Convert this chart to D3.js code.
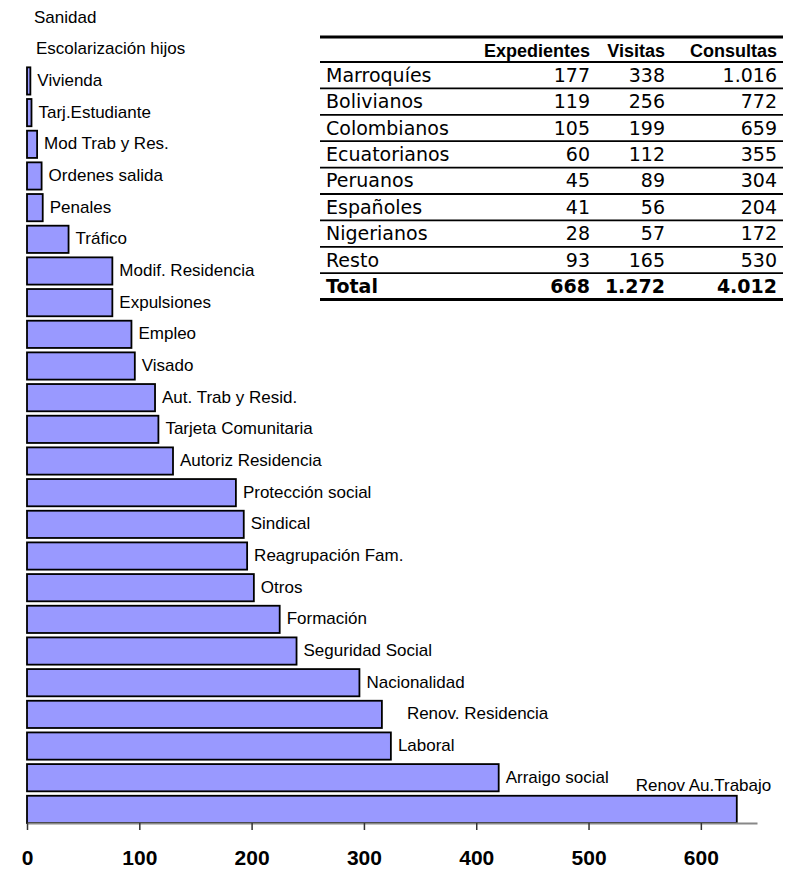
<!DOCTYPE html>
<html>
	<head>
		<meta charset="utf-8">
		<script src="https://d3js.org/d3.v7.min.js"></script>
		<style>
			body { margin: 0; background: #fff; }
		</style>
	</head>
	<body>
		<script>
			// temas de consulta, de arriba abajo
			var temas = ["Sanidad", "Escolarización hijos", "Vivienda", "Tarj.Estudiante", "Mod Trab y Res.",
				"Ordenes salida", "Penales", "Tráfico", "Modif. Residencia", "Expulsiones", "Empleo", "Visado",
				"Aut. Trab y Resid.", "Tarjeta Comunitaria", "Autoriz Residencia", "Protección social", "Sindical",
				"Reagrupación Fam.", "Otros", "Formación", "Seguridad Social", "Nacionalidad", "Renov. Residencia",
				"Laboral", "Arraigo social", "Renov Au.Trabajo"];
			var valores = [0, 0, 3, 4, 9, 13, 14, 37, 76, 76, 93, 96, 114, 117, 130, 186, 193, 196, 202, 225, 240,
				296, 316, 324, 420, 632];
			var ticks = [0, 100, 200, 300, 400, 500, 600];

			// tabla por nacionalidad
			var nacionalidades = ["Marroquíes", "Bolivianos", "Colombianos", "Ecuatorianos", "Peruanos",
				"Españoles", "Nigerianos", "Resto", "Total"];
			var columnas = ["Expedientes", "Visitas", "Consultas"];
			var expedientes = ["177", "119", "105", "60", "45", "41", "28", "93", "668"];
			var visitas = ["338", "256", "199", "112", "89", "56", "57", "165", "1.272"];
			var consultas = ["1.016", "772", "659", "355", "304", "204", "172", "530", "4.012"];

			var width = 785;
			var height = 880;

			var svg = d3.select('body').append('svg')
				.attr('width', width)
				.attr('height', height);

			var x = d3.scaleLinear().domain([0, 650]).range([27, 757]);
			var y = d3.scaleBand().domain(temas).range([4, 823]).paddingInner(0.14).paddingOuter(0);

			// barras
			svg.selectAll('rect.bar')
				.data(temas)
				.enter()
				.append('rect')
				.attr('class', 'bar')
				.attr('x', x(0))
				.attr('y', function (d) { return y(d); })
				.attr('width', function (d, i) { return x(valores[i]) - x(0); })
				.attr('height', y.bandwidth())
				.style('fill', '#9999ff')
				.style('stroke', '#000')
				.style('stroke-width', 1.8)
				.style('display', function (d, i) { return valores[i] > 0 ? null : 'none'; });

			// etiquetas (algunas movidas a mano como en el original)
			var ajuste = { "Escolarización hijos": [2, 0], "Renov. Residencia": [18, 0], "Renov Au.Trabajo": [-108, -23] };
			svg.selectAll('text.etq')
				.data(temas)
				.enter()
				.append('text')
				.attr('class', 'etq')
				.attr('x', function (d, i) { return x(valores[i]) + 7 + (ajuste[d] ? ajuste[d][0] : 0); })
				.attr('y', function (d) { return y(d) + y.bandwidth() / 2 - 1 + (ajuste[d] ? ajuste[d][1] : 0); })
				.attr('dy', '0.35em')
				.style('font-family', 'Liberation Sans, Arial, sans-serif')
				.style('font-size', '17px')
				.text(function (d) { return d; });

			// eje
			var eje = svg.append('g')
				.attr('transform', 'translate(0,823)')
				.call(d3.axisBottom(x).tickValues(ticks).tickSize(7).tickPadding(20).tickSizeOuter(0));
			eje.select('.domain').attr('stroke', '#888').attr('stroke-width', 2);
			eje.selectAll('.tick line').attr('stroke', '#333').attr('stroke-width', 1.5);
			eje.selectAll('.tick text')
				.style('font-family', 'Liberation Sans, Arial, sans-serif')
				.style('font-size', '21px')
				.style('font-weight', 'bold')
				.attr('fill', '#000');

			// tabla
			var tx0 = 320, tx1 = 783;
			var colX = [590, 665, 777];
			var tTop = 37, headH = 25, rowH = 26.4;
			var filas = [expedientes, visitas, consultas];

			var tabla = svg.append('g');
			columnas.forEach(function (c, j) {
				tabla.append('text')
					.attr('x', colX[j])
					.attr('y', tTop + headH / 2 + 1)
					.attr('dy', '0.35em')
					.attr('text-anchor', 'end')
					.style('font-family', 'Liberation Sans, Arial, sans-serif')
					.style('font-size', '18px')
					.style('font-weight', 'bold')
					.text(c);
			});

			nacionalidades.forEach(function (n, i) {
				var cy = tTop + headH + rowH * i + rowH / 2;
				var bold = n == "Total" ? 'bold' : 'normal';
				tabla.append('text')
					.attr('x', tx0 + 6)
					.attr('y', cy)
					.attr('dy', '0.35em')
					.style('font-family', 'DejaVu Sans, Verdana, sans-serif')
					.style('font-size', '19px')
					.style('font-weight', bold)
					.text(n);
				filas.forEach(function (col, j) {
					tabla.append('text')
						.attr('x', colX[j])
						.attr('y', cy)
						.attr('dy', '0.35em')
						.attr('text-anchor', 'end')
						.style('font-family', 'DejaVu Sans, Verdana, sans-serif')
						.style('font-size', '19px')
						.style('font-weight', bold)
						.text(col[i]);
				});
			});

			// lineas de la tabla
			var lineas = [tTop, tTop + headH];
			for (var i = 1; i < nacionalidades.length; i++) {
				lineas.push(tTop + headH + rowH * i);
			}
			lineas.push(tTop + headH + rowH * nacionalidades.length);
			tabla.selectAll('line')
				.data(lineas)
				.enter()
				.append('line')
				.attr('x1', tx0)
				.attr('x2', tx1)
				.attr('y1', function (d) { return d; })
				.attr('y2', function (d) { return d; })
				.attr('stroke', '#000')
				.attr('stroke-width', function (d, i) { return (i == 0 || i == lineas.length - 1) ? 3 : 1.8; });
		</script>
</body>
</html>
